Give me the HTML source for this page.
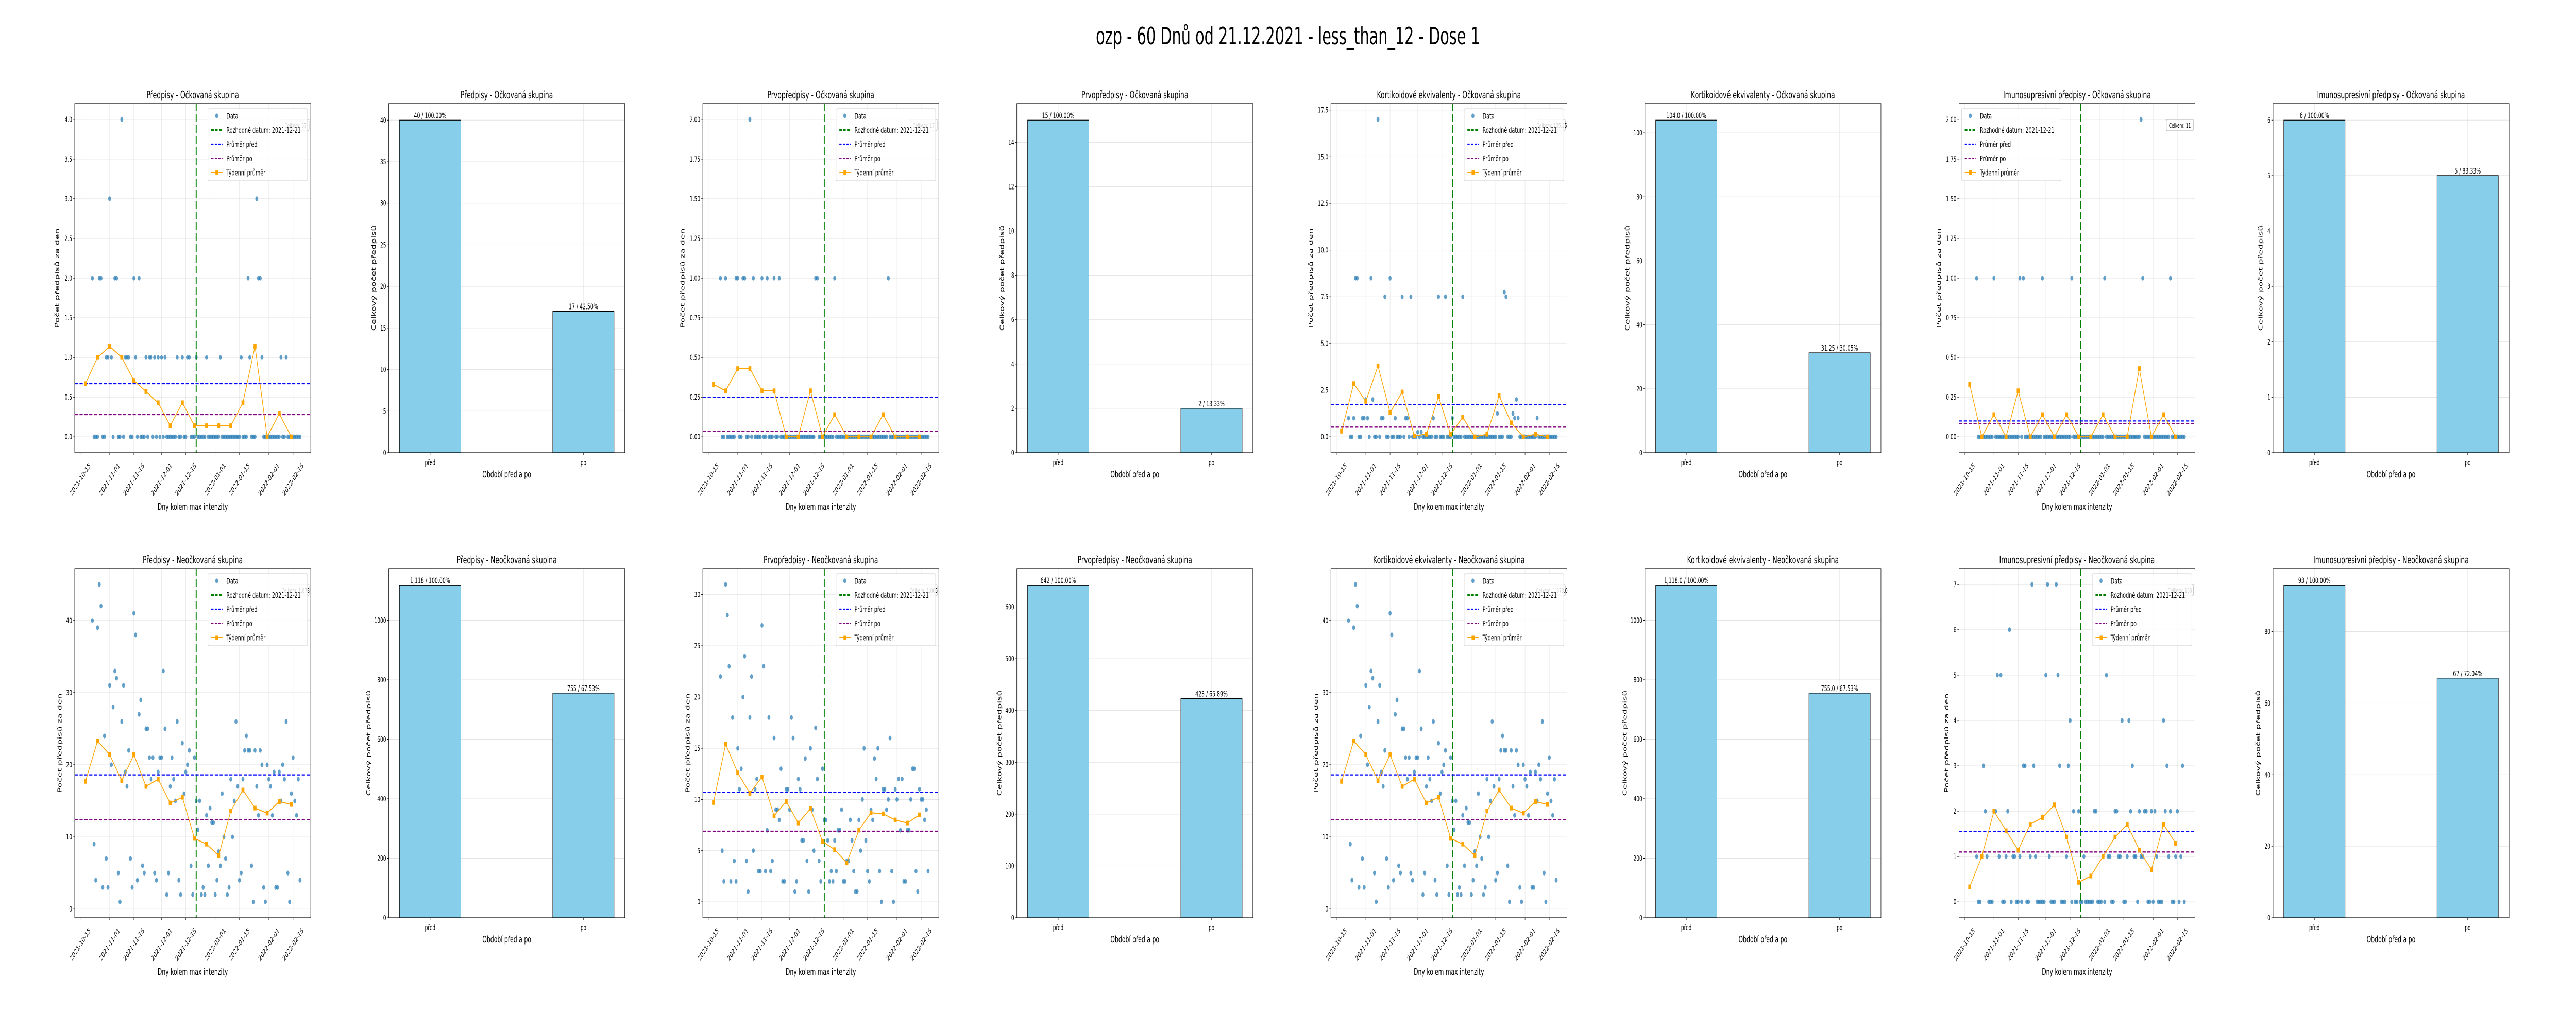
<!DOCTYPE html>
<html><head><meta charset="utf-8"><title>ozp - 60 Dnů od 21.12.2021</title>
<style>
html,body{margin:0;padding:0;background:#fff;width:100%;height:100%;overflow:hidden;}
svg{display:block;position:absolute;left:0;top:0;width:100vw;height:100vh;font-family:"DejaVu Sans","Liberation Sans",sans-serif;}
</style></head>
<body>
<svg id="fig" xmlns="http://www.w3.org/2000/svg" viewBox="0 0 8000 2000" preserveAspectRatio="none">
<rect x="0" y="0" width="8000" height="2000" fill="#fff"/>
<text x="4000" y="86" font-size="46" text-anchor="middle">ozp - 60 Dnů od 21.12.2021 - less_than_12 - Dose 1</text>
</svg>
<script>
// ---------- shared axis data ----------
const dateTickDays = [0,17,31,47,61,78,92,109,123];
const dateTickLabels = ["2021-10-15","2021-11-01","2021-11-15","2021-12-01","2021-12-15","2022-01-01","2022-01-15","2022-02-01","2022-02-15"];
const decisionDay = 67;
const weekDays = [3,10,17,24,31,38,45,52,59,66,73,80,87,94,101,108,115,122];
const firstDay = 7, lastDay = 127;

// ---------- top row: vaccinated (sparse: listed non-zero days, other days are 0) ----------
const p1Days = [7,11,12,20,21,31,34,97,103,104,17,102,24,15,16,18,26,27,28,32,38,40,41,43,45,47,49,56,59,62,63,67,73,81,93,98,105,116,119];
const p1Vals = [2,2,2,2,2,2,2,2,2,2,3,3,4,1,1,1,1,1,1,1,1,1,1,1,1,1,1,1,1,1,1,1,1,1,1,1,1,1,1];
const p1Week = [0.67,1.0,1.14,1.0,0.71,0.57,0.43,0.14,0.43,0.14,0.14,0.14,0.14,0.43,1.14,0,0.29,0];
const p1Means = [0.67,0.28];

const p3Days = [7,10,16,17,20,21,26,31,34,38,41,62,63,73,104,24];
const p3Vals = [1,1,1,1,1,1,1,1,1,1,1,1,1,1,1,2];
const p3Week = [0.33,0.29,0.43,0.43,0.29,0.29,0,0,0.29,0,0.14,0,0,0,0.14,0,0,0];
const p3Means = [0.25,0.035];

const p5Days = [24,11,12,20,31,28,38,43,59,63,73,98,97,17,21,104,7,10,15,16,18,26,27,34,40,41,56,67,103,105,116,93,102,47,49];
const p5Vals = [17,8.5,8.5,8.5,8.5,7.5,7.5,7.5,7.5,7.5,7.5,7.5,7.75,2,2,2,1,1,1,1,1,1,1,1,1,1,1,1,1,1,1,1.25,1.25,0.25,0.25];
const p5Week = [0.3,2.85,1.9,3.8,1.3,2.4,0.05,0.14,2.15,0.14,1.05,0,0.14,2.2,0.75,0,0.14,0];
const p5Means = [1.72,0.52];

const p7Days = [7,17,32,34,45,62,81,103,119,102];
const p7Vals = [1,1,1,1,1,1,1,1,1,2];
const p7Week = [0.33,0,0.14,0,0.29,0,0.14,0,0.14,0,0,0.14,0,0,0.43,0,0.14,0];
const p7Means = [0.1,0.083];

// ---------- bottom row: unvaccinated (daily values for days 7..127) ----------
const q1Vals = [40,9,4,39,45,42,3,24,7,3,31,20,28,33,32,5,1,26,31,19,17,22,7,3,41,38,4,27,29,6,5,25,25,21,18,21,5,4,19,21,21,33,25,2,5,17,21,18,15,26,4,2,23,16,19,20,22,6,2,21,15,11,15,2,3,2,13,6,14,12,12,2,4,8,6,16,10,7,2,3,18,10,15,26,17,4,5,18,22,24,22,22,6,1,22,17,13,22,20,3,1,20,18,17,13,19,3,3,19,15,20,18,26,5,1,16,21,15,13,18,4];
const q1Week = [17.7,23.3,21.4,17.8,21.4,17.0,18.0,14.7,15.5,9.8,9.0,7.4,13.6,16.5,14.0,13.3,14.9,14.5];
const q1Means = [18.6,12.4];

const q3Vals = [22,5,2,31,28,23,2,18,4,2,15,11,13,20,24,4,1,18,22,5,11,12,3,3,27,23,3,7,18,3,4,16,9,9,8,13,2,2,11,11,9,18,16,1,2,12,11,6,6,14,4,1,15,9,5,17,12,4,2,13,8,8,6,2,3,2,6,3,7,7,9,2,2,4,4,8,6,3,1,1,8,5,10,15,6,3,2,9,8,14,12,15,3,0,11,11,9,10,16,3,0,11,10,12,7,12,2,2,7,7,10,13,13,3,1,11,10,10,8,9,3];
const q3Week = [9.7,15.4,12.6,10.6,12.2,8.4,9.8,7.7,9.1,5.9,5.1,3.8,7.0,8.7,8.6,8.0,7.7,8.5];
const q3Means = [10.7,6.9];

const q5Vals = q1Vals.slice();
const q5Week = q1Week.slice();
const q5Means = [18.6,12.4];

const q7Days = [39,48,53,26,19,21,47,54,82,61,91,95,115,11,34,35,40,55,60,97,117,126,12,17,18,25,63,66,75,76,87,88,96,101,104,105,108,110,116,119,123,7,10,13,20,24,28,29,32,38,41,49,59,69,80,83,84,89,90,94,98,99,102,103,111,118,122,125];
const q7Vals = [7,7,7,6,5,5,5,5,5,4,4,4,4,3,3,3,3,3,3,3,3,3,2,2,2,2,2,2,2,2,2,2,2,2,2,2,2,2,2,2,2,1,1,1,1,1,1,1,1,1,1,1,1,1,1,1,1,1,1,1,1,1,1,1,1,1,1,1];
const q7Week = [0.33,1.0,2.0,1.57,1.14,1.71,1.86,2.14,1.43,0.43,0.57,1.0,1.43,1.71,1.14,0.71,1.71,1.29];
const q7Means = [1.55,1.1];

// ---------- y tick values ----------
const ticks0to4 = [0,0.5,1,1.5,2,2.5,3,3.5,4];
const ticks0to2 = [0,0.25,0.5,0.75,1,1.25,1.5,1.75,2];
const ticks0to175 = [0,2.5,5,7.5,10,12.5,15,17.5];
const ticks0to40 = [0,10,20,30,40];
const ticks0to30 = [0,5,10,15,20,25,30];
const ticks0to7 = [0,1,2,3,4,5,6,7];

// ---------- bars ----------
const barCategories = ["před","po"];
const barVals = [[40,17],[15,2],[104,31.25],[6,5],[1118,755],[642,423],[1118,755],[93,67]];
const barLabels = [["40 / 100.00%","17 / 42.50%"],["15 / 100.00%","2 / 13.33%"],["104.0 / 100.00%","31.25 / 30.05%"],["6 / 100.00%","5 / 83.33%"],["1,118 / 100.00%","755 / 67.53%"],["642 / 100.00%","423 / 65.89%"],["1,118.0 / 100.00%","755.0 / 67.53%"],["93 / 100.00%","67 / 72.04%"]];
const barTicks = [[0,5,10,15,20,25,30,35,40],[0,2,4,6,8,10,12,14],[0,20,40,60,80,100],[0,1,2,3,4,5,6],[0,200,400,600,800,1000],[0,100,200,300,400,500,600],[0,200,400,600,800,1000],[0,20,40,60,80]];

const titles = ["Předpisy","Prvopředpisy","Kortikoidové ekvivalenty","Imunosupresivní předpisy"];
const groups = ["Očkovaná skupina","Neočkovaná skupina"];
const celkemTexts = [["Celkem: 57","Celkem: 17","Celkem: 135.25","Celkem: 11"],["Celkem: 1,873","Celkem: 1,065","Celkem: 1,873.0","Celkem: 160"]];

// ---------- drawing ----------
const NS = 'http://www.w3.org/2000/svg';
const svg = document.getElementById('fig');
function mk(tag, attrs, parent){const e=document.createElementNS(NS,tag);for(const k in attrs)e.setAttribute(k,attrs[k]);(parent||svg).appendChild(e);return e;}
function tx(str, attrs, parent){const e=mk('text',attrs,parent);e.textContent=str;return e;}
function fmt(v, dec){return v.toFixed(dec);}
function decOf(ticks){let d=0;ticks.forEach(t=>{const s=String(t);if(s.includes('.'))d=Math.max(d,s.split('.')[1].length);});return d;}

const colLeft = k => 232 + 975.3*k;
const W = 733, H = 678;
const rowTop = [201, 1104];
let clipId = 0;

function sparseToDaily(days, vals){
  const m = {}; days.forEach((d,i)=>{m[d]=vals[i];});
  const ds=[], vs=[];
  for(let d=firstDay; d<=lastDay; d++){ds.push(d); vs.push(m[d]!==undefined?m[d]:0);}
  return [ds,vs];
}
function dailyDays(vals){return vals.map((v,i)=>firstDay+i);}

function drawScatter(col, row, days, vals, week, means, yticks, title, celkem, legendLeft){
  const L = colLeft(col), T = rowTop[row], R = L+W, B = T+H;
  const g = mk('g', {});
  
  
  const allX = days.concat(weekDays);
  const x0 = Math.min(...allX), x1 = Math.max(...allX), xp = (x1-x0)*0.05;
  const xmin = x0-xp, xmax = x1+xp;
  const allY = vals.concat(week);
  const y0 = Math.min(...allY), y1 = Math.max(...allY), yp = (y1-y0)*0.05;
  const ymin = y0-yp, ymax = y1+yp;
  const X = d => L + (d-xmin)/(xmax-xmin)*W;
  const Y = v => B - (v-ymin)/(ymax-ymin)*H;

  const frame = mk('rect', {x:L,y:T,width:W,height:H,fill:'#fff'}, g);
  
  
  const tt = tx(title, {x:L+W/2, y:T-10, 'font-size':20, 'text-anchor':'middle'}, g);
  
  

  const dec = decOf(yticks);
  yticks.forEach(t=>{
    const y = Y(t);
    const gl = mk('line', {x1:L,x2:R,y1:y,y2:y,stroke:'#b0b0b0','stroke-opacity':0.35,'stroke-width':1}, g);
    
    
    const tk = mk('line', {x1:L-5,x2:L,y1:y,y2:y,stroke:'#000','stroke-width':1}, g);
    
    
    const lb = tx(fmt(t,dec), {x:L-8,y:y+5,'font-size':14.5,'text-anchor':'end'}, g);
    
    
  });
  dateTickDays.forEach((d,i)=>{
    const x = X(d);
    const gl = mk('line', {x1:x,x2:x,y1:T,y2:B,stroke:'#b0b0b0','stroke-opacity':0.35,'stroke-width':1}, g);
    
    
    const tk = mk('line', {x1:x,x2:x,y1:B,y2:B+5,stroke:'#000','stroke-width':1}, g);
    
    
    const lb = tx(dateTickLabels[i], {x:x,y:B+52,'font-size':14.5,'text-anchor':'middle','dominant-baseline':'central',transform:'rotate(-45 '+x+' '+(B+52)+')'}, g);
    
    
  });
  const maxLen = Math.max(...yticks.map(t=>fmt(t,dec).length));
  const ylx = L - (30 + 8*maxLen);
  const yl = tx('Počet předpisů za den', {x:ylx,y:T+H/2,'font-size':17.5,'text-anchor':'middle','dominant-baseline':'central',transform:'rotate(-90 '+ylx+' '+(T+H/2)+')'}, g);
  
  
  const xl = tx('Dny kolem max intenzity', {x:L+W/2,y:B+111,'font-size':17.5,'text-anchor':'middle'}, g);
  
  

  clipId++;
  const cp = mk('clipPath', {id:'c'+clipId}, g);
  mk('rect', {x:L,y:T,width:W,height:H}, cp);
  const data = mk('g', {'clip-path':'url(#c'+clipId+')'}, g);
  
  

  days.forEach((d,i)=>{
    const c = mk('circle', {cx:X(d), cy:Y(vals[i]), r:4.6, fill:'#1f77b4','fill-opacity':0.7}, data);
    
    
  });
  const vx = X(decisionDay);
  const vl = mk('line', {x1:vx,x2:vx,y1:T,y2:B,stroke:'#008000','stroke-width':3,'stroke-dasharray':'15,6'}, data);
  
  
  const mb = mk('line', {x1:L,x2:R,y1:Y(means[0]),y2:Y(means[0]),stroke:'#0000ff','stroke-width':2.3,'stroke-dasharray':'10,5'}, data);
  
  
  const ma = mk('line', {x1:L,x2:R,y1:Y(means[1]),y2:Y(means[1]),stroke:'#800080','stroke-width':2.3,'stroke-dasharray':'10,5'}, data);
  
  
  const pts = weekDays.map((d,i)=>X(d)+','+Y(week[i])).join(' ');
  const wl = mk('polyline', {points:pts, fill:'none', stroke:'#ffa500','stroke-width':2}, data);
  
  
  weekDays.forEach((d,i)=>{
    const s = mk('rect', {x:X(d)-4.5, y:Y(week[i])-4.5, width:9, height:9, fill:'#ffa500'}, data);
    
    
  });
  const fr = mk('rect', {x:L,y:T,width:W,height:H,fill:'none',stroke:'#000','stroke-width':1.2}, g);
  
  

  const cb = mk('g', {}, g);
  
  
  mk('rect', {x:R-89,y:T+31,width:84,height:22,rx:3,fill:'#fff',stroke:'#aaa','stroke-width':1}, cb);
  tx(celkem, {x:R-47,y:T+47,'font-size':12,'text-anchor':'middle'}, cb);

  const lx = legendLeft ? L+8 : R-10-309, ly = T+10;
  const lg = mk('g', {}, g);
  
  
  mk('rect', {x:lx,y:ly,width:309,height:140,rx:3,fill:'#fff','fill-opacity':0.82,stroke:'#cccccc','stroke-width':1}, lg);
  const names = ['Data','Rozhodné datum: 2021-12-21','Průměr před','Průměr po','Týdenní průměr'];
  names.forEach((n,i)=>{
    const cy = ly + 14 + 27.5*i;
    const e = mk('g', {}, lg);
    
    
    if(i===0) mk('circle', {cx:lx+27,cy:cy,r:4.6,fill:'#1f77b4','fill-opacity':0.7}, e);
    else if(i===4){ mk('line',{x1:lx+10,x2:lx+45,y1:cy,y2:cy,stroke:'#ffa500','stroke-width':2},e); mk('rect',{x:lx+23,y:cy-4.5,width:9,height:9,fill:'#ffa500'},e); }
    else { const col=['','#008000','#0000ff','#800080'][i]; mk('line',{x1:lx+10,x2:lx+45,y1:cy,y2:cy,stroke:col,'stroke-width':i===1?3:2.3,'stroke-dasharray':i===1?'8,4':'7,4'},e); }
    tx(n, {x:lx+57,y:cy+5.5,'font-size':15.5}, e);
  });
}

function drawBars(col, row, vals, labels, ticks, title){
  const L = colLeft(col), T = rowTop[row], R = L+W, B = T+H;
  const g = mk('g', {});
  
  
  const ymax = Math.max(...vals)*1.05;
  const xmin = -0.27, xmax = 1.27;
  const X = c => L + (c-xmin)/(xmax-xmin)*W;
  const Y = v => B - v/ymax*H;
  const frame = mk('rect', {x:L,y:T,width:W,height:H,fill:'#fff'}, g);
  
  
  const tt = tx(title, {x:L+W/2, y:T-10, 'font-size':20, 'text-anchor':'middle'}, g);
  
  
  ticks.forEach(t=>{
    const y = Y(t);
    const gl = mk('line', {x1:L,x2:R,y1:y,y2:y,stroke:'#b0b0b0','stroke-opacity':0.35,'stroke-width':1}, g);
    
    
    const tk = mk('line', {x1:L-5,x2:L,y1:y,y2:y,stroke:'#000','stroke-width':1}, g);
    
    
    const lb = tx(String(t), {x:L-8,y:y+5,'font-size':14.5,'text-anchor':'end'}, g);
    
    
  });
  barCategories.forEach((c,i)=>{
    const x = X(i);
    const gl = mk('line', {x1:x,x2:x,y1:T,y2:B,stroke:'#b0b0b0','stroke-opacity':0.35,'stroke-width':1}, g);
    
    
    const b = mk('rect', {x:X(i-0.2), y:Y(vals[i]), width:X(0.2)-X(-0.2), height:B-Y(vals[i]), fill:'#87ceeb', stroke:'#000','stroke-width':1.2}, g);
    
    
    const bl = tx(labels[i], {x:x,y:Y(vals[i])-4,'font-size':15,'text-anchor':'middle'}, g);
    
    
    const tk = mk('line', {x1:x,x2:x,y1:B,y2:B+5,stroke:'#000','stroke-width':1}, g);
    
    
    const lb = tx(c, {x:x,y:B+24,'font-size':14.5,'text-anchor':'middle'}, g);
    
    
  });
  const maxLen = Math.max(...ticks.map(t=>String(t).length));
  const ylx = L - (30 + 8*maxLen);
  const yl = tx('Celkový počet předpisů', {x:ylx,y:T+H/2,'font-size':17.5,'text-anchor':'middle','dominant-baseline':'central',transform:'rotate(-90 '+ylx+' '+(T+H/2)+')'}, g);
  
  
  const xl = tx('Období před a po', {x:L+W/2,y:B+48,'font-size':17.5,'text-anchor':'middle'}, g);
  
  
  const fr = mk('rect', {x:L,y:T,width:W,height:H,fill:'none',stroke:'#000','stroke-width':1.2}, g);
  
  
}

const topSets = [
  [...sparseToDaily(p1Days,p1Vals), p1Week, p1Means, ticks0to4, false],
  [...sparseToDaily(p3Days,p3Vals), p3Week, p3Means, ticks0to2, false],
  [...sparseToDaily(p5Days,p5Vals), p5Week, p5Means, ticks0to175, false],
  [...sparseToDaily(p7Days,p7Vals), p7Week, p7Means, ticks0to2, true]
];
const botSets = [
  [dailyDays(q1Vals), q1Vals, q1Week, q1Means, ticks0to40, false],
  [dailyDays(q3Vals), q3Vals, q3Week, q3Means, ticks0to30, false],
  [dailyDays(q5Vals), q5Vals, q5Week, q5Means, ticks0to40, false],
  [...sparseToDaily(q7Days,q7Vals), q7Week, q7Means, ticks0to7, false]
];
[topSets, botSets].forEach((sets,row)=>{
  sets.forEach((s,i)=>{
    const title = titles[i]+' - '+groups[row];
    drawScatter(2*i, row, s[0], s[1], s[2], s[3], s[4], title, celkemTexts[row][i], s[5]);
    const bi = row*4+i;
    drawBars(2*i+1, row, barVals[bi], barLabels[bi], barTicks[bi], title);
  });
});
</script>
</body></html>
